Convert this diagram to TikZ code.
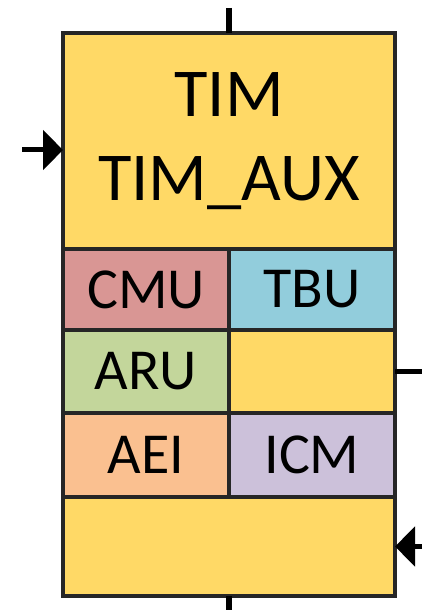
\documentclass[tikz,border=0pt]{standalone}
\usepackage{fontspec}
\setmainfont{Carlito}
\usetikzlibrary{arrows.meta}

\definecolor{zluta}{HTML}{FFD966}
\definecolor{cmubarva}{HTML}{D99694}
\definecolor{tbubarva}{HTML}{92CDDC}
\definecolor{arubarva}{HTML}{C3D69B}
\definecolor{aeibarva}{HTML}{FAC090}
\definecolor{icmbarva}{HTML}{CCC1DA}

\tikzstyle{blok}=[draw=black!85, line width=0.07cm, rectangle, inner sep=0pt, outer sep=0pt, text centered, font=\fontsize{33}{40}\selectfont]
\tikzstyle{bunka}=[blok, minimum width=3.32cm]
\tikzstyle{vodic}=[line width=0.1cm]

\begin{document}
\begin{tikzpicture}
            \useasboundingbox (0,0) rectangle (8.6,12.2);

            % Definice bloků
            \node[blok, fill=zluta, minimum width=6.64cm, minimum height=4.32cm, align=center, font=\fontsize{39}{48}\selectfont] (TIM) at (4.58,9.38) {TIM\\TIM\_AUX};
            \node[bunka, fill=cmubarva, minimum height=1.62cm] (CMU) at (2.92,6.41) {CMU};
            \node[bunka, fill=tbubarva, minimum height=1.62cm] (TBU) at (6.24,6.41) {TBU};
            \node[bunka, fill=arubarva, minimum height=1.66cm] (ARU) at (2.92,4.77) {ARU};
            \node[bunka, fill=zluta, minimum height=1.66cm] (prazdny) at (6.24,4.77) {};
            \node[bunka, fill=aeibarva, minimum height=1.68cm] (AEI) at (2.92,3.10) {AEI};
            \node[bunka, fill=icmbarva, minimum height=1.68cm] (ICM) at (6.24,3.10) {ICM};
            \node[blok, fill=zluta, minimum width=6.64cm, minimum height=1.98cm] (dolni) at (4.58,1.27) {};

            % Volné konce vodičů
            \coordinate (horni) at (4.58,12.04);
            \coordinate (spodni) at (4.58,0);
            \coordinate (vstup1) at (0.44,9.20);
            \coordinate (vystup) at (8.44,4.77);
            \coordinate (vstup2) at (8.44,1.27);

            % Vodiče
            \draw[line width=0.12cm] (horni) -- (TIM.north);
            \draw[line width=0.12cm] (dolni.south) -- (spodni);
            \draw[vodic, -{Triangle[length=0.4cm, width=0.78cm]}] (vstup1) -- (vstup1 -| TIM.west);
            \draw[vodic] (prazdny.east) -- (vystup);
            \draw[vodic, -{Triangle[length=0.4cm, width=0.78cm]}] (vstup2) -- (dolni.east);
        \end{tikzpicture}
\end{document}
